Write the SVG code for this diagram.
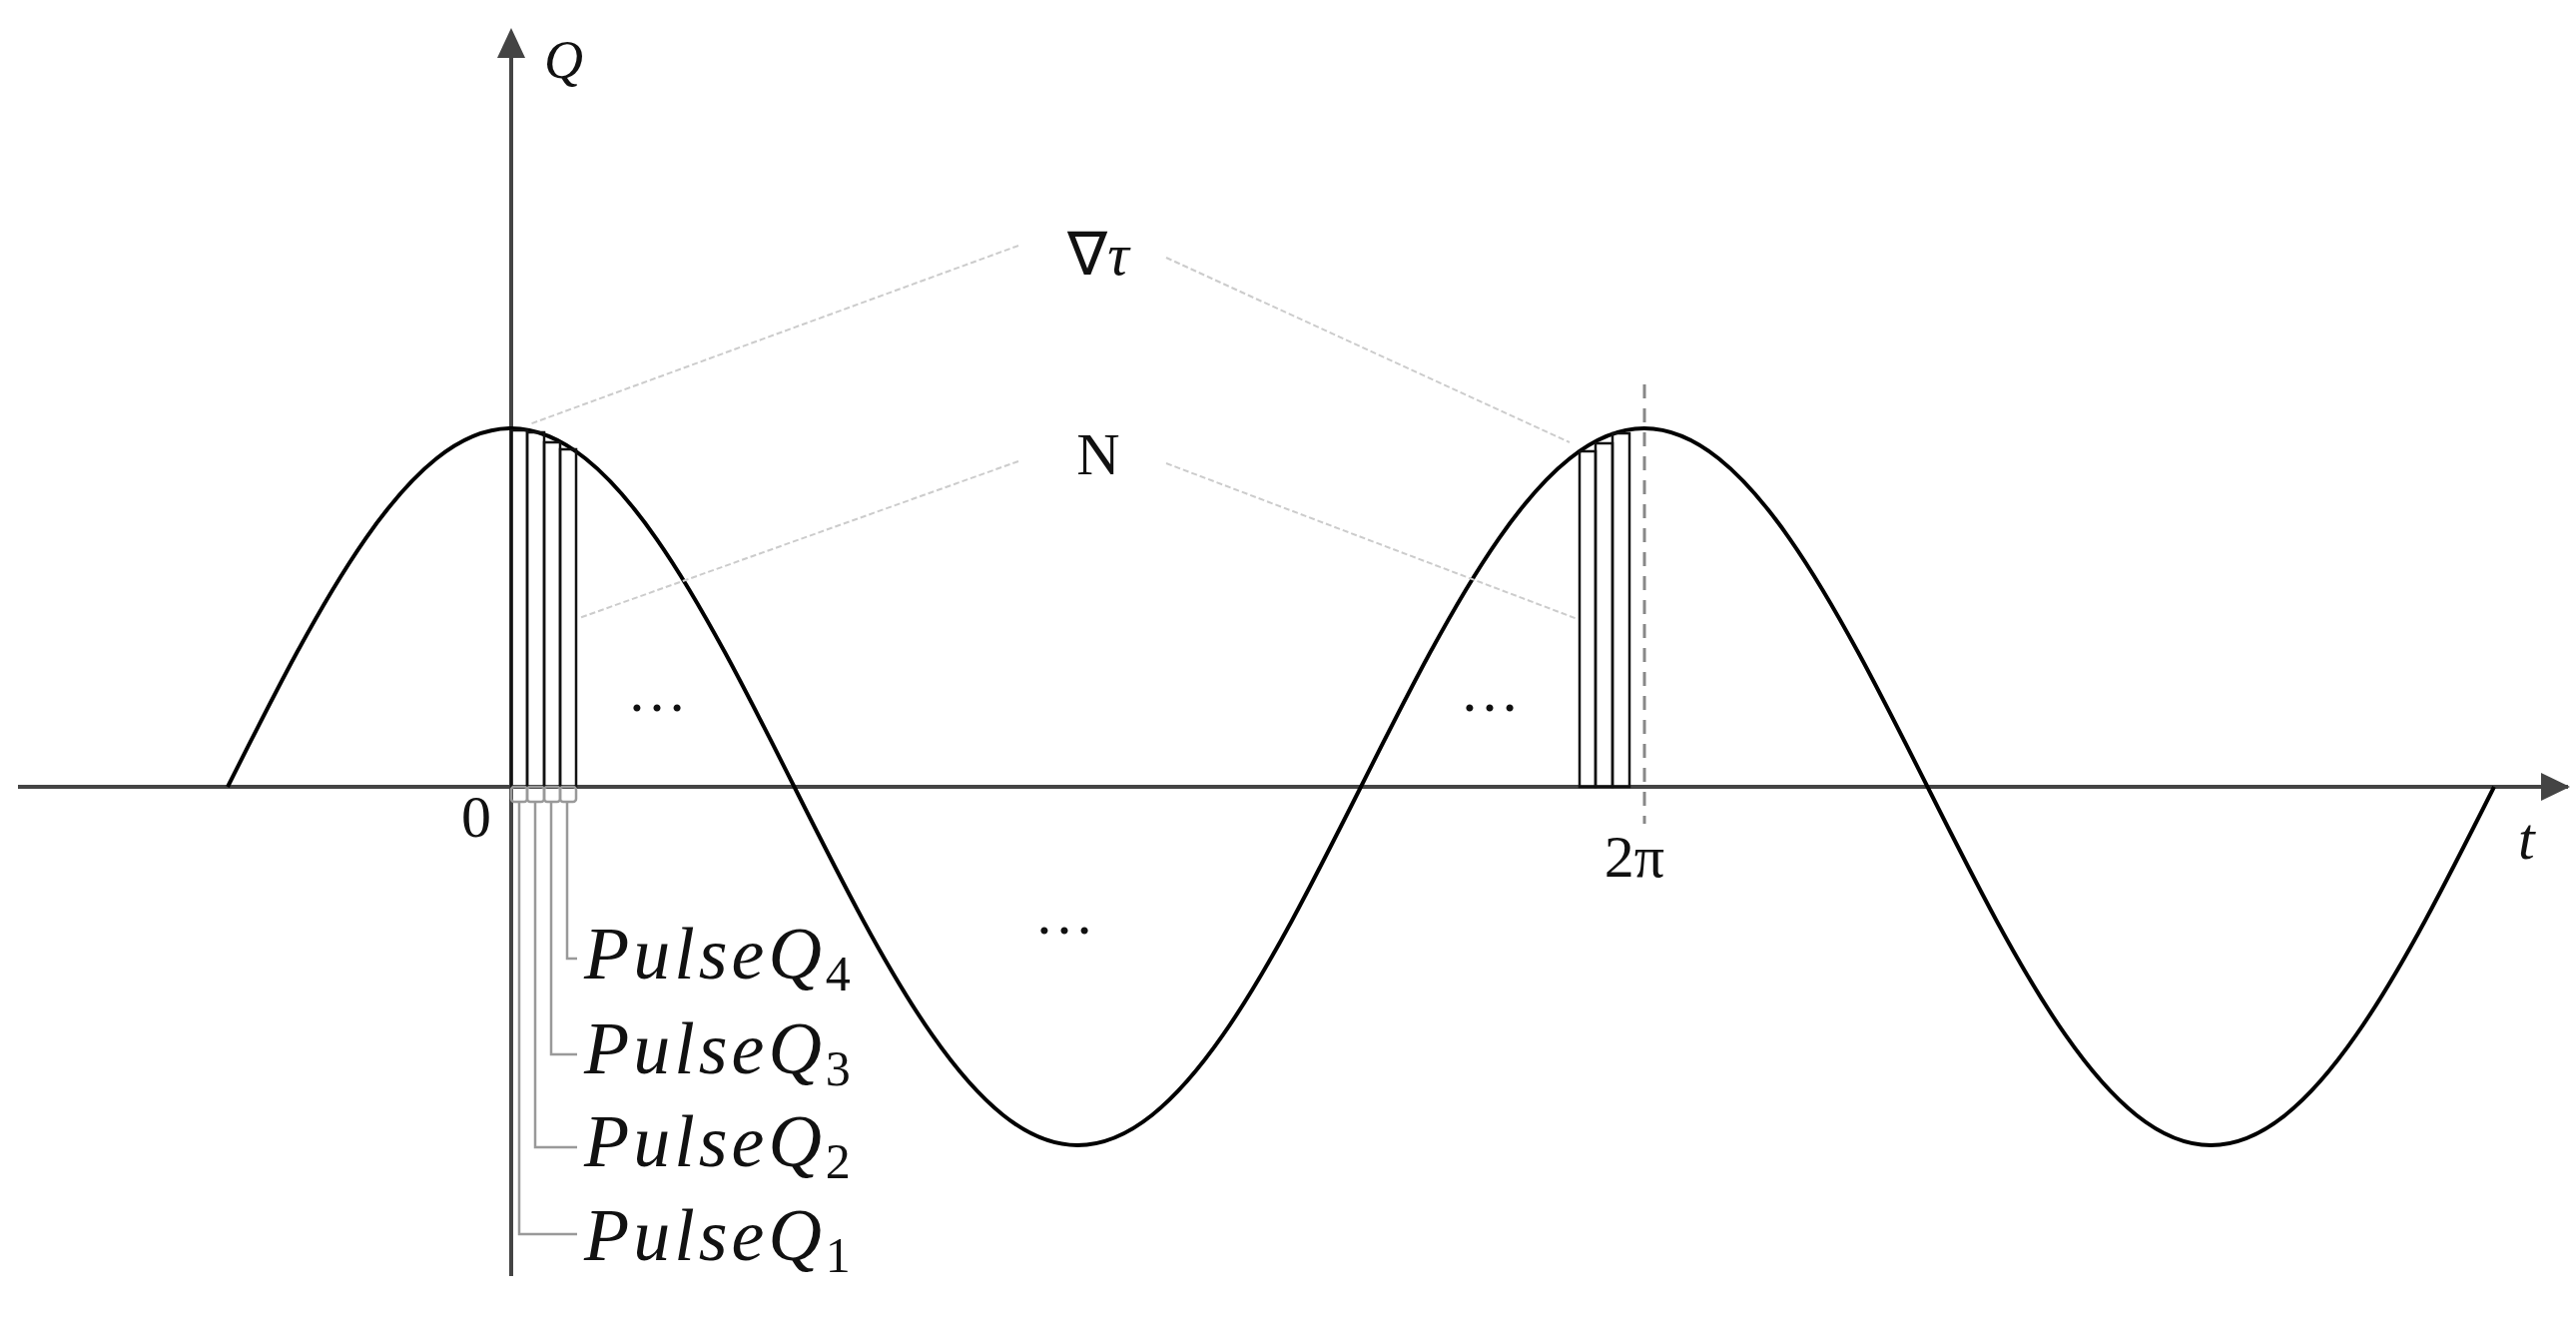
<svg xmlns="http://www.w3.org/2000/svg" width="2580" height="1321" viewBox="0 0 2580 1321">
<defs>
<marker id="ah" markerWidth="10" markerHeight="10" refX="9" refY="5" orient="auto" markerUnits="userSpaceOnUse" viewBox="0 0 10 10"><path d="M0,0 L10,5 L0,10 z" fill="#444"/></marker>
<style>
.ax{stroke:#444;stroke-width:4;fill:none}
.lead{stroke:#ccc;stroke-width:2;fill:none;stroke-dasharray:6 3}
.bar{stroke:#111;stroke-width:2.5;fill:none}
.pl{stroke:#999;stroke-width:2.5;fill:none}
.it{font-family:"Liberation Serif",serif;font-style:italic;fill:#111}
.up{font-family:"Liberation Serif",serif;fill:#111;font-size:60px}
</style>
</defs>
<rect width="2580" height="1321" fill="#fff"/>
<g id="axes">
<line class="ax" x1="18" y1="788" x2="2572" y2="788"/>
<path d="M2545,774 L2574,788 L2545,802 z" fill="#444"/>
<line class="ax" x1="512" y1="1278" x2="512" y2="55"/>
<path d="M498,58 L512,28 L526,58 z" fill="#444"/>
<line x1="1647" y1="385" x2="1647" y2="825" stroke="#888" stroke-width="3" stroke-dasharray="14 10"/>
</g>
<g id="curve">
<path d="M228,788 c92.5,-183.9 181.1,-359 283.75,-359 c102.7,0 191.2,175.1 283.75,359 c92.5,183.9 181.1,359 283.75,359 c102.7,0 191.2,-175.1 283.75,-359 c92.5,-183.9 181.1,-359 283.75,-359 c102.7,0 191.2,175.1 283.75,359 c92.5,183.9 181.1,359 283.75,359 c102.7,0 191.2,-175.1 283.75,-359" fill="none" stroke="#000" stroke-width="4"/>
</g>
<g id="pulses-left">
<rect class="bar" x="512" y="431" width="16" height="357" stroke="#888"/>
<rect class="bar" x="528" y="433" width="17" height="355"/>
<rect class="bar" x="545" y="443" width="16" height="345" stroke="#555"/>
<rect class="bar" x="561" y="450" width="16" height="338"/>
<rect class="pl" x="512" y="788" width="16" height="15" rx="3"/>
<rect class="pl" x="528" y="788" width="17" height="15" rx="3"/>
<rect class="pl" x="545" y="788" width="16" height="15" rx="3"/>
<rect class="pl" x="561" y="788" width="16" height="15" rx="3"/>
</g>
<g id="pulses-right">
<rect class="bar" x="1582" y="452" width="16" height="336"/>
<rect class="bar" x="1598" y="444" width="17" height="344"/>
<rect class="bar" x="1615" y="434" width="17" height="354"/>
</g>
<g id="connectors">
<line class="lead" x1="1020" y1="246" x2="530" y2="425"/>
<line class="lead" x1="1168" y1="258" x2="1572" y2="443"/>
<line class="lead" x1="1020" y1="462" x2="580" y2="619"/>
<line class="lead" x1="1168" y1="464" x2="1580" y2="620"/>
<polyline class="pl" points="520,803 520,1236 578,1236"/>
<polyline class="pl" points="536,803 536,1149 578,1149"/>
<polyline class="pl" points="552,803 552,1056 578,1056"/>
<polyline class="pl" points="568,803 568,960 578,960"/>
</g>
<g id="labels">
<text class="it" x="545" y="78" font-size="54">Q</text>
<text class="it" x="2522" y="860" font-size="60">t</text>
<text class="up" x="477" y="838" text-anchor="middle">0</text>
<text class="up" x="1637" y="878" text-anchor="middle">2π</text>
<text class="up" x="1100" y="275" text-anchor="middle">∇<tspan font-style="italic">τ</tspan></text>
<text class="up" x="1100" y="475" text-anchor="middle">N</text>
<text class="up" x="658" y="712" text-anchor="middle" font-size="40">…</text>
<text class="up" x="1492" y="712" text-anchor="middle" font-size="40">…</text>
<text class="up" x="1066" y="935" text-anchor="middle" font-size="40">…</text>
<text class="it" x="585" y="980" font-size="74" letter-spacing="4">PulseQ<tspan font-style="normal" font-size="50" dy="12">4</tspan></text>
<text class="it" x="585" y="1075" font-size="74" letter-spacing="4">PulseQ<tspan font-style="normal" font-size="50" dy="12">3</tspan></text>
<text class="it" x="585" y="1168" font-size="74" letter-spacing="4">PulseQ<tspan font-style="normal" font-size="50" dy="12">2</tspan></text>
<text class="it" x="585" y="1262" font-size="74" letter-spacing="4">PulseQ<tspan font-style="normal" font-size="50" dy="12">1</tspan></text>
</g>
</svg>
